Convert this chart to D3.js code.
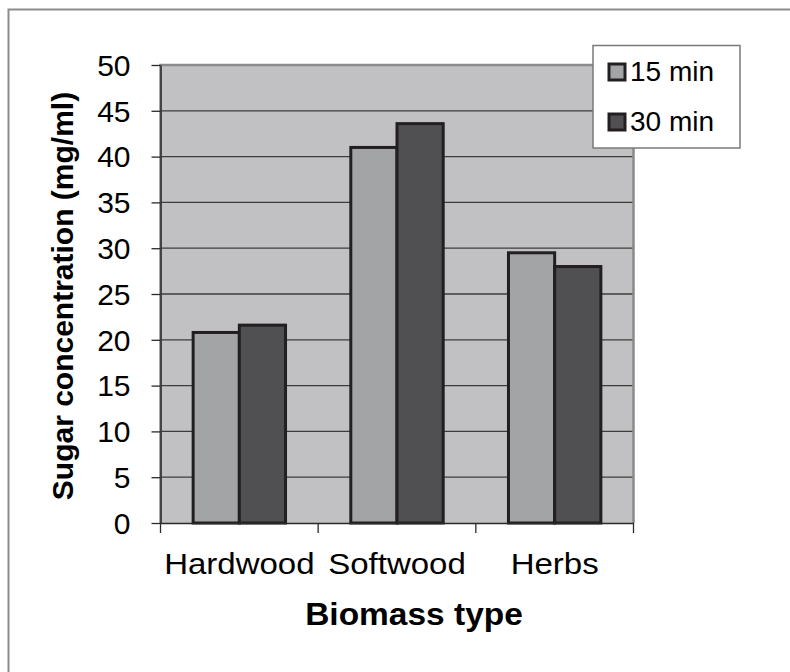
<!DOCTYPE html>
<html>
<head>
<meta charset="utf-8">
<script src="https://cdn.jsdelivr.net/npm/d3@7"></script>
<style>
  body { margin: 0; background: #fff; }
  svg { display: block; font-family: "Liberation Sans", Arial, sans-serif; }
</style>
</head>
<body>
<svg id="chart" width="790" height="672"></svg>
<script>
var categories = ["Hardwood", "Softwood", "Herbs"];
var seriesNames = ["15 min", "30 min"];
var values15 = [20.8, 41.0, 29.5];
var values30 = [21.6, 43.6, 28.0];
var yTicks = [0, 5, 10, 15, 20, 25, 30, 35, 40, 45, 50];

var colors = ["#a3a4a6", "#505052"];

var svg = d3.select("#chart");

// outer chart frame
svg.append("path")
    .attr("d", "M8.5,672 V9.5 H790")
    .attr("fill", "none")
    .attr("stroke", "#8c8c8c")
    .attr("stroke-width", 2);

var margin = {top: 65, left: 160.5, right: 156.5, bottom: 149};
var width = 790 - margin.left - margin.right,
    height = 672 - margin.top - margin.bottom;

var g = svg.append("g")
    .attr("transform", "translate(" + margin.left + "," + margin.top + ")");

var x = d3.scaleBand().domain(categories).range([0, width]).paddingInner(0).paddingOuter(0);
var xs = d3.scaleBand().domain(seriesNames).range([x.bandwidth() * 0.207, x.bandwidth() * 0.793]);
var y = d3.scaleLinear().domain([0, 50]).range([height, 0]);

// plot area
g.append("rect")
    .attr("width", width)
    .attr("height", height)
    .attr("fill", "#c1c1c3");

// gridlines
g.selectAll(".grid")
    .data(yTicks.filter(function (d) { return d > 0 && d < 50; }))
    .enter().append("line")
    .attr("x1", 0).attr("x2", width)
    .attr("y1", function (d) { return y(d); })
    .attr("y2", function (d) { return y(d); })
    .attr("stroke", "#3c3c3c")
    .attr("stroke-width", 1.3);

// plot border (top / right lighter)
g.append("path")
    .attr("d", "M0," + height + " V0 H" + width + " V" + height)
    .attr("fill", "none")
    .attr("stroke", "#8a8a8a")
    .attr("stroke-width", 2.5);

// bars
var data = [];
categories.forEach(function (c, i) {
    data.push({cat: c, s: seriesNames[0], v: values15[i], k: 0});
    data.push({cat: c, s: seriesNames[1], v: values30[i], k: 1});
});

g.selectAll(".bar")
    .data(data)
    .enter().append("rect")
    .attr("x", function (d) { return x(d.cat) + xs(d.s); })
    .attr("y", function (d) { return y(d.v); })
    .attr("width", xs.bandwidth())
    .attr("height", function (d) { return height - y(d.v); })
    .attr("fill", function (d) { return colors[d.k]; })
    .attr("stroke", "#231f20")
    .attr("stroke-width", 3);

// y axis
var yAxis = g.append("g")
    .call(d3.axisLeft(y).tickValues(yTicks).tickSize(9).tickPadding(21).tickSizeOuter(0));
yAxis.select(".domain").attr("stroke", "#2a2a2a").attr("stroke-width", 1.5);
yAxis.selectAll(".tick line").attr("stroke", "#2a2a2a").attr("stroke-width", 1.3);
yAxis.selectAll("text")
    .attr("font-size", 30)
    .attr("fill", "#000")
    .attr("dy", "0.34em")
    .attr("font-family", "Liberation Sans, Arial, sans-serif");

// x axis
var xAxis = g.append("g")
    .attr("transform", "translate(0," + height + ")")
    .call(d3.axisBottom(x).tickSize(0));
xAxis.select(".domain").attr("stroke", "#2a2a2a").attr("stroke-width", 1.5);
xAxis.selectAll("text")
    .attr("font-size", 30)
    .attr("fill", "#000")
    .attr("y", 51)
    .attr("dy", 0)
    .attr("transform", "scale(1.1,1)")
    .attr("font-family", "Liberation Sans, Arial, sans-serif");

// x ticks at category boundaries
var bounds = categories.map(function (c) { return x(c); }).concat([width]);
g.selectAll(".xtick")
    .data(bounds)
    .enter().append("line")
    .attr("x1", function (d) { return d; }).attr("x2", function (d) { return d; })
    .attr("y1", height).attr("y2", height + 10)
    .attr("stroke", "#2a2a2a")
    .attr("stroke-width", 1.3);

// axis titles
svg.append("text")
    .attr("transform", "translate(73," + (margin.top + height / 2 + 2) + ") rotate(-90)")
    .attr("text-anchor", "middle")
    .attr("font-size", 30)
    .attr("font-weight", "bold")
    .text("Sugar concentration (mg/ml)");

svg.append("text")
    .attr("transform", "translate(414,625) scale(1.08,1)")
    .attr("text-anchor", "middle")
    .attr("font-size", 31)
    .attr("font-weight", "bold")
    .text("Biomass type");

// legend
var legend = svg.append("g");
legend.append("rect")
    .attr("x", 593).attr("y", 45.5)
    .attr("width", 147).attr("height", 102.5)
    .attr("fill", "#fff")
    .attr("stroke", "#7a7a7a")
    .attr("stroke-width", 1.5);

var item = legend.selectAll(".item")
    .data(seriesNames)
    .enter().append("g")
    .attr("transform", function (d, i) { return "translate(609," + (64 + i * 50) + ")"; });

item.append("rect")
    .attr("width", 16).attr("height", 16)
    .attr("fill", function (d, i) { return colors[i]; })
    .attr("stroke", "#231f20")
    .attr("stroke-width", 3);

item.append("text")
    .attr("x", 21)
    .attr("y", 17)
    .attr("font-size", 28)
    .text(function (d) { return d; });
</script>
</body>
</html>
